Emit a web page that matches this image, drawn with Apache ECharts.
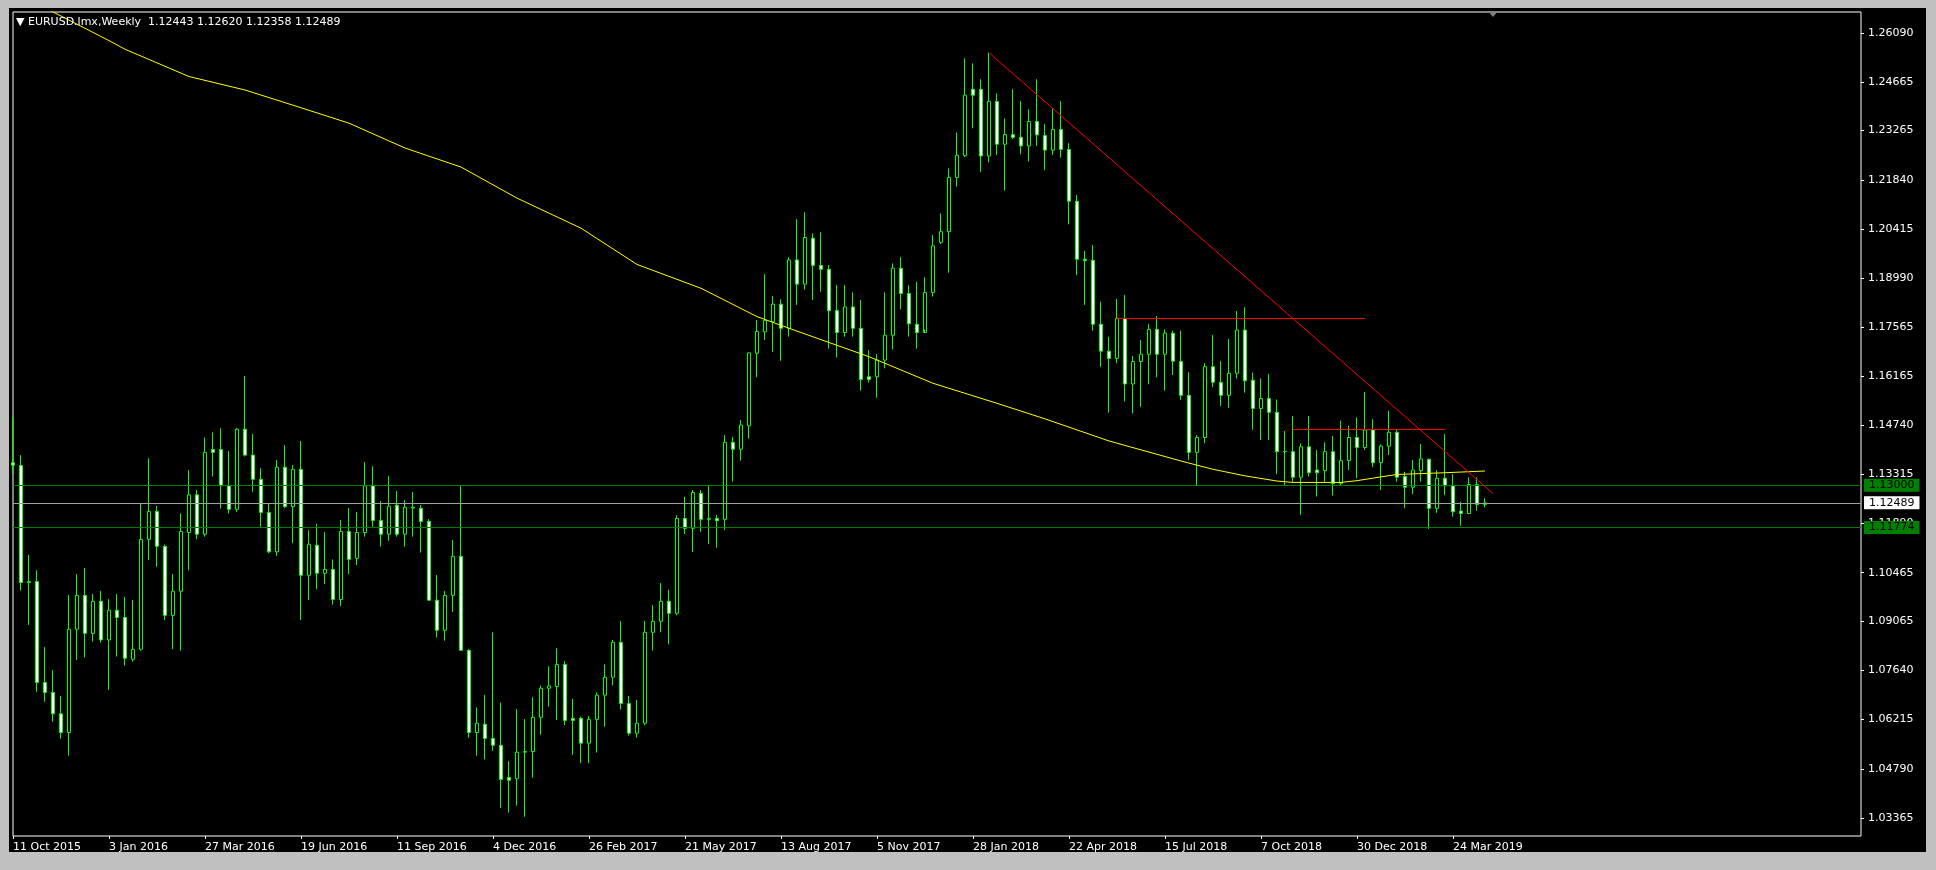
<!DOCTYPE html>
<html><head><meta charset="utf-8">
<script src="https://cdn.jsdelivr.net/npm/echarts@6/dist/echarts.min.js"></script>
<style>
html,body{margin:0;padding:0;background:#c0c0c0;width:1936px;height:870px;overflow:hidden}
#frame{position:absolute;left:9px;top:8px;width:1917px;height:844px;background:#000}
#chart{position:absolute;left:0;top:0;width:1936px;height:870px}
</style></head><body>
<div id="frame"></div><div id="chart"></div>
<script>
// ---- data ----
const firstWeek = '2015-10-11';
const totalSlots = 232;
const xTickLabels = ['11 Oct 2015','3 Jan 2016','27 Mar 2016','19 Jun 2016','11 Sep 2016','4 Dec 2016','26 Feb 2017','21 May 2017','13 Aug 2017','5 Nov 2017','28 Jan 2018','22 Apr 2018','15 Jul 2018','7 Oct 2018','30 Dec 2018','24 Mar 2019'];
const yTicks = [1.26090,1.24665,1.23265,1.21840,1.20415,1.18990,1.17565,1.16165,1.14740,1.13315,1.11890,1.10465,1.09065,1.07640,1.06215,1.04790,1.03365];

const opens = [1.1365,1.1357,1.1018,1.1021,1.0729,1.0700,1.0638,1.0584,1.0883,1.0981,
1.0871,1.0964,1.0852,1.0938,1.0917,1.0796,1.0825,1.1143,1.1224,1.1123,
1.0923,1.0993,1.1163,1.1272,1.1158,1.1403,1.1403,1.1298,1.1230,1.1462,
1.1387,1.1317,1.1221,1.1107,1.1352,1.1238,1.1346,1.1039,1.1126,1.1045,
1.1056,1.0969,1.1166,1.1088,1.1163,1.1298,1.1198,1.1158,1.1242,1.1158,
1.1236,1.1233,1.1195,1.0967,1.0880,1.0981,1.1094,1.0822,1.0584,1.0608,
1.0567,1.0547,1.0454,1.0450,1.0527,1.0529,1.0628,1.0712,1.0717,1.0781,
1.0625,1.0625,1.0553,1.0622,1.0692,1.0744,1.0845,1.0668,1.0582,1.0611,
1.0874,1.0906,1.0964,1.0929,1.1204,1.1175,1.1276,1.1201,1.1204,1.1201,
1.1424,1.1404,1.1472,1.1682,1.1744,1.1773,1.1824,1.1754,1.1952,1.1882,
1.2015,1.1936,1.1925,1.1806,1.1742,1.1816,1.1754,1.1614,1.1614,1.1662,
1.1734,1.1928,1.1855,1.1766,1.1742,1.1858,1.2003,1.2034,1.2191,1.2254,
1.2446,1.2446,1.2253,1.2411,1.2287,1.2315,1.2307,1.2282,1.2353,1.2312,
1.2270,1.2330,1.2272,1.2122,1.1954,1.1951,1.1766,1.1688,1.1667,1.1783,
1.1593,1.1658,1.1679,1.1751,1.1679,1.1740,1.1658,1.1560,1.1395,1.1438,
1.1643,1.1598,1.1560,1.1624,1.1749,1.1604,1.1522,1.1551,1.1511,1.1397,
1.1397,1.1323,1.1411,1.1344,1.1342,1.1397,1.1305,1.1371,1.1438,1.1409,
1.1460,1.1365,1.1413,1.1453,1.1325,1.1294,1.1342,1.1375,1.1233,1.1320,
1.1298,1.1225,1.1218,1.1302,1.12443];
const closes = [1.1358,1.1018,1.1021,1.0729,1.0700,1.0638,1.0584,1.0883,1.0981,1.0871,
1.0964,1.0852,1.0938,1.0917,1.0799,1.0825,1.1143,1.1224,1.1123,1.0923,
1.0993,1.1166,1.1272,1.1158,1.1395,1.1395,1.1298,1.1230,1.1462,1.1387,
1.1317,1.1221,1.1107,1.1352,1.1238,1.1346,1.1039,1.1129,1.1045,1.1056,
1.0969,1.1166,1.1085,1.1163,1.1298,1.1198,1.1158,1.1239,1.1158,1.1236,
1.1234,1.1195,1.0967,1.0880,1.0981,1.1094,1.0822,1.0584,1.0611,1.0567,
1.0547,1.0448,1.0446,1.0527,1.0529,1.0628,1.0712,1.0719,1.0781,1.0619,
1.0619,1.0553,1.0622,1.0692,1.0744,1.0845,1.0668,1.0582,1.0611,1.0874,
1.0906,1.0964,1.0929,1.1204,1.1175,1.1279,1.1201,1.1204,1.1197,1.1424,
1.1404,1.1474,1.1683,1.1745,1.1777,1.1824,1.1754,1.1952,1.1882,1.2017,
1.1936,1.1925,1.1805,1.1742,1.1816,1.1754,1.1606,1.1606,1.1662,1.1734,
1.1928,1.1855,1.1767,1.1742,1.1858,1.1993,1.2034,1.2191,1.2255,1.2429,
1.2429,1.2253,1.2411,1.2287,1.2315,1.2307,1.2282,1.2353,1.2314,1.2270,
1.2330,1.2272,1.2122,1.1954,1.1950,1.1766,1.1688,1.1667,1.1783,1.1593,
1.1658,1.1679,1.1751,1.1679,1.1740,1.1659,1.1560,1.1395,1.1438,1.1643,
1.1598,1.1560,1.1624,1.1749,1.1602,1.1522,1.1551,1.1511,1.1397,1.1398,
1.1323,1.1411,1.1336,1.1336,1.1397,1.1305,1.1371,1.1438,1.1409,1.1460,
1.1365,1.1413,1.1453,1.1323,1.1294,1.1344,1.1376,1.1233,1.1320,1.1298,
1.1223,1.1218,1.1302,1.12444,1.12489];
const lows = [1.1334,1.0995,1.0895,1.0702,1.0673,1.0615,1.0566,1.0517,1.0794,1.0801,
1.0847,1.0844,1.0707,1.0804,1.0777,1.0789,1.0821,1.1083,1.1064,1.0910,
1.0825,1.0821,1.1054,1.1143,1.1151,1.1325,1.1232,1.1218,1.1223,1.1383,
1.1281,1.1180,1.1103,1.1095,1.1233,1.1132,1.0910,1.0968,1.0999,1.1014,
1.0954,1.0950,1.1043,1.1069,1.1151,1.1180,1.1122,1.1139,1.1151,1.1122,
1.1151,1.1105,1.0966,1.0859,1.0850,1.0933,1.0821,1.0569,1.0517,1.0506,
1.0531,1.0366,1.0352,1.0372,1.0340,1.0453,1.0578,1.0659,1.0620,1.0606,
1.0519,1.0495,1.0495,1.0526,1.0601,1.0720,1.0651,1.0575,1.0569,1.0605,
1.0821,1.0874,1.0839,1.0923,1.1159,1.1107,1.1165,1.1130,1.1119,1.1170,
1.1310,1.1371,1.1435,1.1612,1.1720,1.1686,1.1660,1.1730,1.1822,1.1866,
1.1836,1.1860,1.1695,1.1670,1.1730,1.1730,1.1574,1.1597,1.1553,1.1638,
1.1693,1.1809,1.1730,1.1695,1.1751,1.1846,1.1998,1.1915,1.2164,1.2250,
1.2333,1.2206,1.2235,1.2256,1.2153,1.2302,1.2258,1.2237,1.2282,1.2212,
1.2256,1.2248,1.2055,1.1908,1.1822,1.1747,1.1643,1.1510,1.1653,1.1542,
1.1508,1.1527,1.1592,1.1612,1.1574,1.1619,1.1547,1.1373,1.1300,1.1421,
1.1583,1.1529,1.1524,1.1609,1.1568,1.1460,1.1431,1.1431,1.1332,1.1300,
1.1310,1.1214,1.1326,1.1267,1.1310,1.1270,1.1300,1.1344,1.1320,1.1402,
1.1352,1.1286,1.1387,1.1310,1.1233,1.1274,1.1310,1.1173,1.1220,1.1271,
1.1209,1.1182,1.1216,1.1226,1.12358];
const highs = [1.1498,1.1387,1.1098,1.1054,1.0831,1.0765,1.0690,1.0982,1.1043,1.1060,
1.0985,1.0994,1.0970,1.0985,1.0976,1.0968,1.1245,1.1378,1.1240,1.1128,
1.1043,1.1218,1.1344,1.1286,1.1438,1.1453,1.1465,1.1399,1.1465,1.1616,
1.1448,1.1349,1.1247,1.1373,1.1416,1.1358,1.1428,1.1170,1.1188,1.1164,
1.1085,1.1199,1.1234,1.1222,1.1367,1.1355,1.1254,1.1327,1.1283,1.1257,
1.1280,1.1242,1.1202,1.1040,1.0994,1.1141,1.1298,1.0825,1.0657,1.0693,
1.0874,1.0671,1.0501,1.0652,1.0623,1.0686,1.0720,1.0776,1.0828,1.0791,
1.0681,1.0630,1.0632,1.0700,1.0781,1.0852,1.0907,1.0690,1.0678,1.0907,
1.0953,1.1017,1.0997,1.1213,1.1267,1.1286,1.1286,1.1298,1.1214,1.1445,
1.1440,1.1489,1.1685,1.1778,1.1911,1.1848,1.1838,1.1960,1.2070,1.2090,
1.2029,1.2032,1.1937,1.1879,1.1879,1.1858,1.1836,1.1691,1.1679,1.1858,
1.1942,1.1960,1.1879,1.1889,1.1902,1.2024,1.2087,1.2217,1.2321,1.2536,
1.2521,1.2475,1.2552,1.2434,1.2362,1.2446,1.2412,1.2388,1.2475,1.2346,
1.2391,1.2412,1.2290,1.2140,1.1978,1.1995,1.1831,1.1730,1.1839,1.1851,
1.1674,1.1720,1.1767,1.1790,1.1751,1.1747,1.1747,1.1627,1.1445,1.1653,
1.1735,1.1659,1.1723,1.1804,1.1815,1.1626,1.1609,1.1622,1.1548,1.1457,
1.1500,1.1421,1.1500,1.1402,1.1424,1.1442,1.1487,1.1472,1.1496,1.1570,
1.1491,1.1418,1.1515,1.1460,1.1339,1.1373,1.1419,1.1377,1.1344,1.1448,
1.1332,1.1252,1.1323,1.1323,1.12620];

// yellow moving average, read at sampled bars
const maIndex = [0,5,12,14,22,29,35,42,49,56,63,71,78,86,93,98,107,115,123,129,137,146,150,154,158,160,166,168,171,173,179,184];
const maValue = [1.2731,1.2670,1.2587,1.2562,1.2483,1.2444,1.2400,1.2348,1.2276,1.2221,1.2131,1.2044,1.1939,1.1870,1.1788,1.1746,1.1672,1.1595,1.1537,1.1492,1.1428,1.1370,1.1346,1.1327,1.1312,1.1308,1.1308,1.1313,1.1324,1.1331,1.1336,1.1341];

// levels & drawn objects
const greenLevels = [1.13000, 1.11774];
const bidPrice = 1.12489;
const titleText = 'EURUSD.lmx,Weekly  1.12443 1.12620 1.12358 1.12489';
const trendLine = [[122, 1.2552], [185, 1.1276]];
const redLevel1 = [[138, 1.1783], [169, 1.1783]];
const redLevel2 = [[160, 1.1463], [179, 1.1463]];
const yMin = 1.02844, yMax = 1.26698;

// ---- build ----
const MONTHS = ['Jan','Feb','Mar','Apr','May','Jun','Jul','Aug','Sep','Oct','Nov','Dec'];
const t0 = Date.parse(firstWeek + 'T00:00:00Z');
const cats = [];
for (let i = 0; i < totalSlots; i++) {
  const d = new Date(t0 + i * 7 * 86400000);
  cats.push(d.getUTCDate() + ' ' + MONTHS[d.getUTCMonth()] + ' ' + d.getUTCFullYear());
}
const candles = opens.map((o, i) => [o, closes[i], lows[i], highs[i]]);
const maData = maIndex.map((k, j) => [cats[k], maValue[j]]);
const seg = (s, color) => [
  {coord: [cats[s[0][0]], s[0][1]], lineStyle: {color: color, width: 1, type: 'solid'}},
  {coord: [cats[s[1][0]], s[1][1]]}
];
const levelLabel = (bg) => ({
  show: true, position: 'end', distance: 3, color: '#000', backgroundColor: bg,
  padding: [1, 5, 1, 5], fontSize: 11, fontFamily: 'DejaVu Sans',
  formatter: p => Number(p.value).toFixed(5)
});

const chart = echarts.init(document.getElementById('chart'), null, {renderer: 'canvas'});
chart.setOption({
  animation: false,
  backgroundColor: 'transparent',
  textStyle: {fontFamily: 'DejaVu Sans', fontSize: 11, color: '#fff'},
  title: {
    text: '{t|▼} ' + titleText,
    left: 16, top: 15, padding: 0,
    textStyle: {color: '#fff', fontSize: 11, fontWeight: 'normal', fontFamily: 'DejaVu Sans', lineHeight: 14,
      rich: {t: {fontSize: 11, color: '#fff', lineHeight: 14}}}
  },
  grid: {left: 13, right: 75, top: 12, bottom: 34, show: true, borderColor: '#ffffff', borderWidth: 1, backgroundColor: 'transparent'},
  xAxis: {
    type: 'category', data: cats, boundaryGap: false,
    axisLine: {show: false},
    axisTick: {show: true, interval: (i) => i % 12 === 0 && i < opens.length, length: 3, lineStyle: {color: '#fff'}},
    axisLabel: {
      interval: (i) => i % 12 === 0 && i < opens.length,
      color: '#fff', fontSize: 11, fontFamily: 'DejaVu Sans', align: 'left', margin: 6,
      formatter: (v, i) => (i % 12 === 0 && xTickLabels[i / 12]) ? xTickLabels[i / 12] : ''
    },
    splitLine: {show: false}
  },
  yAxis: {
    type: 'value', position: 'right', min: yMin, max: yMax,
    axisLine: {show: false},
    axisTick: {show: true, length: 3, customValues: yTicks, lineStyle: {color: '#fff'}},
    axisLabel: {customValues: yTicks, color: '#fff', fontSize: 11, fontFamily: 'DejaVu Sans', margin: 7,
      formatter: v => Number(v).toFixed(5)},
    splitLine: {show: false}
  },
  series: [
    {
      name: 'EURUSD', type: 'candlestick', data: candles, barWidth: 4,
      itemStyle: {color: '#000000', color0: '#ffffff', borderColor: '#00ff00', borderColor0: '#00ff00', borderWidth: 1},
      markLine: {
        silent: true, symbol: ['none', 'none'], animation: false, precision: 5,
        data: [
          {yAxis: greenLevels[0], lineStyle: {color: '#008000', width: 1, type: 'solid'}, label: levelLabel('#008000')},
          {yAxis: greenLevels[1], lineStyle: {color: '#008000', width: 1, type: 'solid'}, label: levelLabel('#008000')},
          {yAxis: bidPrice, lineStyle: {color: '#a0a0a0', width: 1, type: 'solid'}, label: levelLabel('#ffffff')},
          seg(trendLine, '#ff0000'),
          seg(redLevel1, '#ff0000'),
          seg(redLevel2, '#ff0000')
        ],
        label: {show: false}
      },
      markPoint: {
        silent: true, animation: false,
        data: [{coord: [cats[opens.length], yMax], symbol: 'triangle', symbolRotate: 180, symbolSize: [10, 6], symbolOffset: [0, 2],
          itemStyle: {color: '#808080'}, label: {show: false}}]
      }
    },
    {
      name: 'MA', type: 'line', data: maData, showSymbol: false, symbol: 'none', connectNulls: true,
      lineStyle: {color: '#ffff00', width: 1}, z: 3, clip: true
    }
  ]
});
</script>
</body></html>
